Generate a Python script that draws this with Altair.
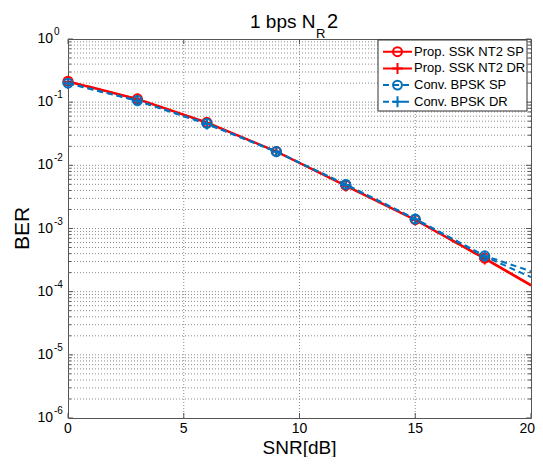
import altair as alt
import pandas as pd

# ---------------- data ----------------
snr = [0, 3, 6, 9, 12, 15, 18, 20]
prop_sp = [0.215, 0.113, 0.048, 0.0166, 0.0048, 0.00138, 0.00034, 0.000128]
prop_dr = [0.210, 0.111, 0.047, 0.0165, 0.0047, 0.00136, 0.00033, 0.000124]
conv_sp = [0.200, 0.106, 0.046, 0.0165, 0.0050, 0.00142, 0.00037, 0.00021]
conv_dr = [0.198, 0.105, 0.045, 0.0164, 0.0049, 0.00140, 0.00036, 0.00017]
n_markers = 7  # markers at 0,3,...,18

series_names = ["Prop. SSK NT2 SP", "Prop. SSK NT2 DR", "Conv. BPSK SP", "Conv. BPSK DR"]
series_values = [prop_sp, prop_dr, conv_sp, conv_dr]
colors = ["#FF0000", "#FF0000", "#0072BD", "#0072BD"]
dashes = [[1, 0], [1, 0], [6, 4], [6, 4]]
PLUS = "M-1,0L1,0M0,-1L0,1"
shapes = ["circle", PLUS, "circle", PLUS]
sizes = [80, 120, 80, 120]

x_ticks = [0, 5, 10, 15, 20]
y_exps = [0, -1, -2, -3, -4, -5, -6]

W, H = 463, 379
FONT = "Liberation Sans"
FRAME = "#555555"
GRID = "#8c8c8c"

xscale = alt.Scale(domain=[0, 20], nice=False, zero=False)
yscale = alt.Scale(type="log", domain=[1e-6, 1], nice=False)

y_grid_vals = [m * 10.0 ** e for e in range(-6, 0) for m in range(1, 10)][1:]
y_minor_vals = [m * 10.0 ** e for e in range(-6, 0) for m in range(2, 10)]


def X(field="snr"):
    return alt.X(f"{field}:Q", scale=xscale, axis=None)


def Y(field="ber"):
    return alt.Y(f"{field}:Q", scale=yscale, axis=None)


one = pd.DataFrame({"a": [0]})
layers = []

# ---------- grid ----------
xg_df = pd.DataFrame({"snr": x_ticks[1:-1]})
layers.append(alt.Chart(xg_df).mark_rule(color=GRID, strokeWidth=1, strokeDash=[1, 2]).encode(
    x=X(), y=alt.value(0), y2=alt.value(H)))
yg_df = pd.DataFrame({"ber": y_grid_vals})
layers.append(alt.Chart(yg_df).mark_rule(color=GRID, strokeWidth=1, strokeDash=[1, 2]).encode(
    y=Y(), x=alt.value(0), x2=alt.value(W)))

# ---------- inner tick marks ----------
xt_df = pd.DataFrame({"snr": x_ticks})
for y0, y1 in [(H, H - 5), (0, 5)]:
    layers.append(alt.Chart(xt_df).mark_rule(color=FRAME, strokeWidth=1).encode(
        x=X(), y=alt.value(y0), y2=alt.value(y1)))
ymaj_df = pd.DataFrame({"ber": [10.0 ** e for e in y_exps]})
ymin_df = pd.DataFrame({"ber": y_minor_vals})
for df, ln in [(ymaj_df, 5), (ymin_df, 3)]:
    for x0, x1 in [(0, ln), (W, W - ln)]:
        layers.append(alt.Chart(df).mark_rule(color=FRAME, strokeWidth=1).encode(
            y=Y(), x=alt.value(x0), x2=alt.value(x1)))

# ---------- tick labels ----------
xl_df = pd.DataFrame({"snr": x_ticks[:-1], "lab": [str(v) for v in x_ticks[:-1]]})
layers.append(alt.Chart(xl_df).mark_text(align="center", baseline="middle", fontSize=14,
                                         font=FONT, color="black").encode(
    x=X(), y=alt.value(H + 11), text="lab:N"))
# last label nudged to stay inside the page
layers.append(alt.Chart(one).mark_text(
    align="right", baseline="middle", fontSize=14, font=FONT, color="black").encode(
    x=alt.value(W + 4), y=alt.value(H + 11), text=alt.value(str(x_ticks[-1]))))
ylab_df = pd.DataFrame({"ber": [10.0 ** e for e in y_exps], "exp": [str(e) for e in y_exps]})
layers.append(alt.Chart(ylab_df).mark_text(align="right", baseline="middle", fontSize=14,
                                           font=FONT, color="black").encode(
    y=Y(), x=alt.value(-15), text=alt.value("10")))
layers.append(alt.Chart(ylab_df).mark_text(align="left", baseline="middle", fontSize=10,
                                           font=FONT, color="black", dy=-7).encode(
    y=Y(), x=alt.value(-14), text="exp:N"))

# ---------- data: lines then markers, red first then blue ----------
for k in [(0, 1), (2, 3)]:
    for i in k:
        df = pd.DataFrame({"snr": snr, "ber": series_values[i]})
        layers.append(alt.Chart(df).mark_line(color=colors[i], strokeWidth=2,
                                              strokeDash=dashes[i], clip=True).encode(x=X(), y=Y()))
    for i in k:
        df = pd.DataFrame({"snr": snr[:n_markers], "ber": series_values[i][:n_markers]})
        layers.append(alt.Chart(df).mark_point(color=colors[i], shape=shapes[i], size=sizes[i],
                                               filled=False, strokeWidth=2, opacity=1).encode(
            x=X(), y=Y()))

# ---------- legend ----------
lx0, lx1, ly0, ly1 = 310, 459, 1, 72
layers.append(alt.Chart(one).mark_rect(fill="white", stroke="#333333", strokeWidth=1).encode(
    x=alt.value(lx0), x2=alt.value(lx1), y=alt.value(ly0), y2=alt.value(ly1)))
for i, (name, col, shp, sz, dash) in enumerate(zip(series_names, colors, shapes, sizes, dashes)):
    ry = 12.7 + 16.7 * i
    layers.append(alt.Chart(one).mark_rule(color=col, strokeWidth=2, strokeDash=dash).encode(
        x=alt.value(315), x2=alt.value(344), y=alt.value(ry)))
    layers.append(alt.Chart(one).mark_point(color=col, shape=shp, size=sz, filled=False,
                                            strokeWidth=2, opacity=1).encode(
        x=alt.value(329.5), y=alt.value(ry)))
    layers.append(alt.Chart(one).mark_text(align="left", baseline="middle", fontSize=13,
                                           font=FONT, color="black").encode(
        x=alt.value(346), y=alt.value(ry), text=alt.value(name)))

# ---------- titles ----------
layers.append(alt.Chart(one).mark_text(align="left", baseline="alphabetic", fontSize=19,
                                       font=FONT, color="black").encode(
    x=alt.value(182), y=alt.value(-11), text=alt.value("1 bps N")))
layers.append(alt.Chart(one).mark_text(align="left", baseline="alphabetic", fontSize=13,
                                       font=FONT, color="black").encode(
    x=alt.value(248), y=alt.value(-1), text=alt.value("R")))
layers.append(alt.Chart(one).mark_text(align="left", baseline="alphabetic", fontSize=20,
                                       font=FONT, color="black").encode(
    x=alt.value(259), y=alt.value(-11), text=alt.value("2")))
layers.append(alt.Chart(one).mark_text(align="center", baseline="middle", fontSize=19,
                                       font=FONT, color="black").encode(
    x=alt.value(W / 2), y=alt.value(H + 30), text=alt.value("SNR[dB]")))
layers.append(alt.Chart(one).mark_text(align="center", baseline="middle", fontSize=21,
                                       font=FONT, color="black", angle=270).encode(
    x=alt.value(-45), y=alt.value(H / 2), text=alt.value("BER")))

chart = alt.layer(*layers).properties(
    width=W, height=H,
    autosize=alt.AutoSizeParams(type="none"),
    padding={"left": 60, "top": 31, "right": 4, "bottom": 39},
    background="white",
).configure_view(stroke=FRAME, strokeWidth=1)

chart.save("out.html", embed_options={"renderer": "svg", "actions": False})
